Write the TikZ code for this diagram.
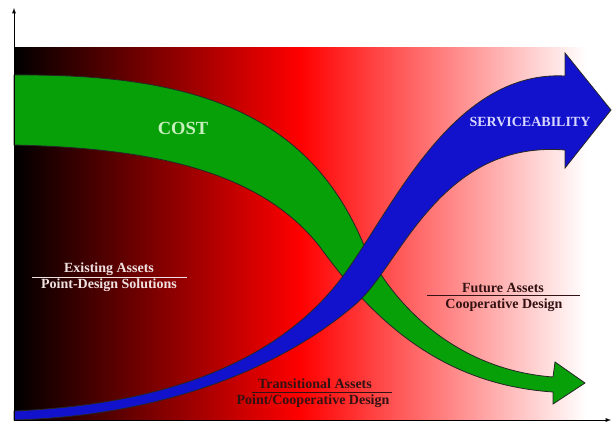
\documentclass[tikz,border=0pt]{standalone}
\usepackage{fontspec}
\setmainfont{Liberation Serif}
\usepackage{xcolor}
\usetikzlibrary{arrows,calc}

\definecolor{costgreen}{RGB}{8,160,8}
\definecolor{costtext}{RGB}{200,240,190}
\definecolor{svcblue}{RGB}{18,18,205}
\definecolor{svctext}{RGB}{215,215,255}
\definecolor{darklabel}{RGB}{50,18,18}
\definecolor{lightlabel}{RGB}{240,225,225}

\begin{document}
\begin{tikzpicture}[>=latex,x=1pt,y=-1pt,
    band/.style={line width=0.8pt,draw=black!85},
    lbl/.style={font=\bfseries\fontsize{14}{16}\selectfont,inner sep=0pt,anchor=base}]
    \useasboundingbox (0,0) rectangle (613,428);
    % --- background : black -> red -> white
    \shade[left color=black,right color=white,middle color=red] (14,48) rectangle (586,420);
    % --- cost band, falling
    \draw[band,fill=costgreen] (14,75) .. controls (180,74) and (305,105) .. (363,243)
      .. controls (395,310) and (460,370) .. (553,377)
      -- (555,362) -- (585,383) -- (553,404) -- (553,392)
      .. controls (450,385) and (380,330) .. (320,247)
      .. controls (260,170) and (150,148) .. (14,145) -- cycle;
    \node[font=\bfseries\fontsize{18.5}{20}\selectfont,text=costtext] (cost) at (183,128) {COST};
    % --- serviceability band, rising
    \draw[band,fill=svcblue] (14,411) .. controls (150,405) and (270,370) .. (340,280)
      .. controls (390,215) and (450,70) .. (565,76)
      -- (565,53) -- (611,110) -- (565,168) -- (565,150)
      .. controls (440,140) and (400,265) .. (357,303)
      .. controls (280,370) and (160,416) .. (14,420) -- cycle;
    \node[font=\bfseries\fontsize{14}{16}\selectfont,text=svctext] (svc) at (530,122) {SERVICEABILITY};
    % --- phase labels
    \node[lbl,text=lightlabel] (existA) at (109,272) {Existing Assets};
    \node[lbl,text=lightlabel] (existB) at (109,288) {Point-Design Solutions};
    \draw[lightlabel,line width=0.7pt] (32,277) -- (187,277);
    \node[lbl,text=darklabel] (transA) at (315,388) {Transitional Assets};
    \node[lbl,text=darklabel] (transB) at (313,404) {Point/Cooperative Design};
    \draw[darklabel,line width=0.7pt] (252,392) -- (392,392);
    \node[lbl,text=darklabel] (futA) at (503,292) {Future Assets};
    \node[lbl,text=darklabel] (futB) at (504,308) {Cooperative Design};
    \draw[darklabel,line width=0.7pt] (427,295) -- (580,295);
    % --- axes
    \coordinate (orig) at (14,420);
    \coordinate (ytop) at (14,8);
    \coordinate (xend) at (611,420);
    \draw[->,line width=0.9pt] (orig) -- (ytop);
    \draw[->,line width=0.9pt] (orig) -- (xend);
\end{tikzpicture}
\end{document}
